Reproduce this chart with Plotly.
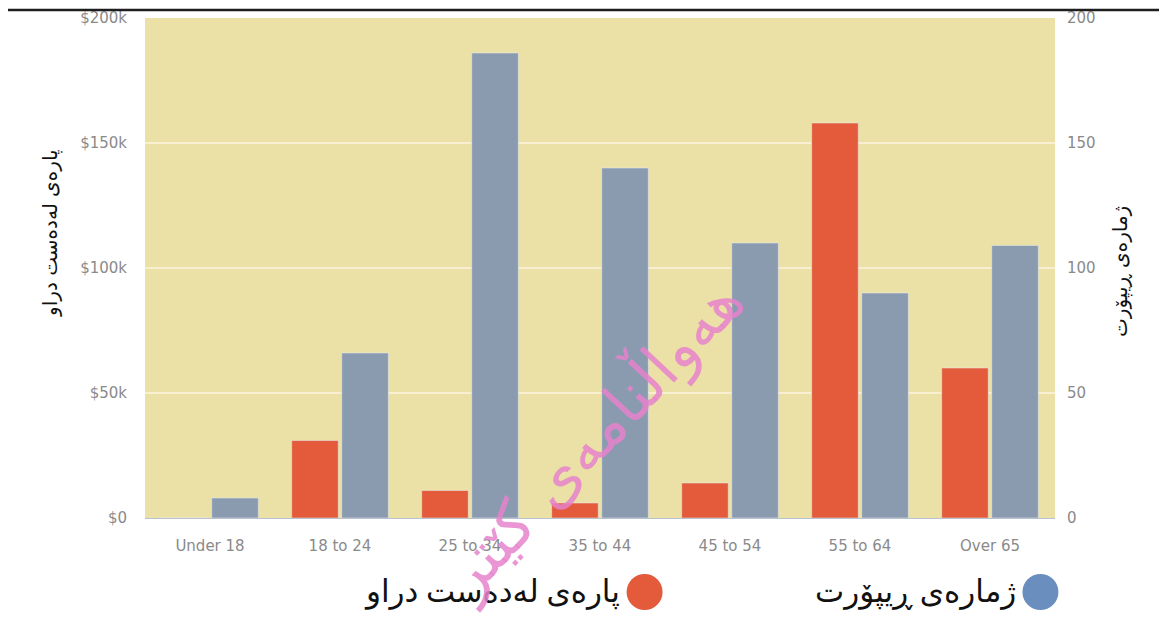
import plotly.graph_objects as go

categories = ["Under 18", "18 to 24", "25 to 34", "35 to 44", "45 to 54", "55 to 64", "Over 65"]
money_lost = [0, 31000, 11000, 6000, 14000, 158000, 60000]
report_counts = [8, 66, 186, 140, 110, 90, 109]
money_ticks = [0, 50000, 100000, 150000, 200000]
money_tick_labels = ["$0", "$50k", "$100k", "$150k", "$200k"]
count_ticks = [0, 50, 100, 150, 200]

money_name = "پارەی لەدەست دراو"
count_name = "ژمارەی ڕیپۆرت"
watermark = "هەواڵنامەی کێتر"

RED = "#e35b3b"
BLUE_BAR = "#8a9bb0"
BLUE_LEG = "#6a8fbf"
tick_font = dict(family="DejaVu Sans, sans-serif", size=15, color="#8a8a8a")
title_font = dict(family="DejaVu Sans", size=20, color="#111")

fig = go.Figure()
fig.add_trace(go.Bar(x=categories, y=money_lost, name=money_name, marker_color=RED,
                     offsetgroup="a", yaxis="y", showlegend=False))
fig.add_trace(go.Bar(x=categories, y=report_counts, name=count_name, marker_color=BLUE_BAR,
                     offsetgroup="b", yaxis="y2", showlegend=False))

fig.update_layout(
    width=1159, height=611,
    margin=dict(l=137, r=112, t=10, b=101, autoexpand=False),
    paper_bgcolor="white",
    plot_bgcolor="#ebe0a5",
    barmode="group", bargap=0.23, bargroupgap=0.07,
    xaxis=dict(tickfont=tick_font, showgrid=False, showline=True, linecolor="#b9c2cf",
               linewidth=1, ticks="outside", ticklen=14, tickcolor="rgba(0,0,0,0)",
               automargin=False),
    yaxis=dict(range=[0, 200000], tickvals=money_ticks, ticktext=money_tick_labels,
               tickfont=tick_font, showgrid=True, gridcolor="#f7efcf", gridwidth=2,
               zeroline=False, ticks="outside", ticklen=14, tickcolor="rgba(0,0,0,0)",
               automargin=False),
    yaxis2=dict(range=[0, 200], tickvals=count_ticks, overlaying="y", side="right",
                tickfont=tick_font, showgrid=False, zeroline=False,
                ticks="outside", ticklen=8, tickcolor="rgba(0,0,0,0)", automargin=False),
)

# axis titles
fig.add_annotation(xref="paper", yref="paper", x=-0.1044, y=0.57, text=money_name, showarrow=False,
                   textangle=-90, xanchor="center", yanchor="middle", font=title_font)
fig.add_annotation(xref="paper", yref="paper", x=1.0714, y=0.494, text=count_name, showarrow=False,
                   textangle=-90, xanchor="center", yanchor="middle", font=title_font)

# top rule
fig.add_shape(type="line", xref="paper", yref="paper", x0=-0.151, x1=1.115, y0=1.016, y1=1.016,
              line=dict(color="#1e1e1e", width=2.5))

# custom legend (circle to the right of RTL text)
leg_y = -0.148
rx, ry = 18 / 910, 18 / 500
for cx, col, txt, tx in [(0.549, RED, money_name, 0.524), (0.984, BLUE_LEG, count_name, 0.959)]:
    fig.add_shape(type="circle", xref="paper", yref="paper", x0=cx - rx, x1=cx + rx,
                  y0=leg_y - ry, y1=leg_y + ry, fillcolor=col, line=dict(width=0))
    fig.add_annotation(xref="paper", yref="paper", x=tx, y=leg_y, text=txt, showarrow=False,
                       xanchor="right", yanchor="middle",
                       font=dict(family="Times New Roman, Liberation Serif, DejaVu Sans", size=31, color="#111"))

# watermark
fig.add_annotation(xref="paper", yref="paper", x=0.49, y=0.16, text=watermark, showarrow=False,
                   xanchor="center", yanchor="middle", textangle=-47,
                   font=dict(family="DejaVu Sans", size=62, color="rgba(230,130,205,0.85)"))

fig.write_html("out.html")
